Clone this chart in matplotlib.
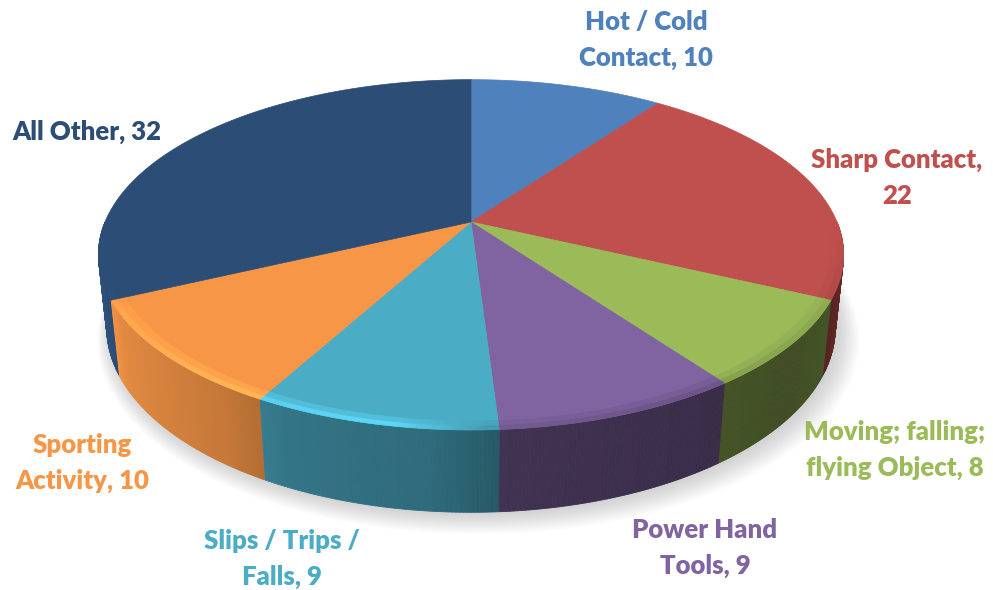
import numpy as np
import matplotlib.pyplot as plt
from matplotlib.patches import Polygon
from matplotlib.colors import to_rgb

# data
categories = ['Hot / Cold\nContact', 'Sharp Contact', 'Moving; falling;\nflying Object',
              'Power Hand\nTools', 'Slips / Trips /\nFalls', 'Sporting\nActivity', 'All Other']
values = [10, 22, 8, 9, 9, 10, 32]
colors = ['#4F81BD', '#C0504D', '#9BBB59', '#8064A2', '#4BACC6', '#F79646', '#2C4D75']
value_on_new_line = [False, True, False, False, False, False, False]
label_pos = [(646, 40), (897, 178), (895, 450), (705, 548), (282, 559), (82, 463), (87, 132)]

# 3d view (pixel units)
K, CX, CY = 366, 471, 222
ELEV = np.radians(27.5)
DIST = 4.74
THICK = 0.226


def project(theta, h=0.0, r=1.0):
    X = r * np.cos(theta)
    Z = r * np.sin(theta)
    sy = h * np.cos(ELEV) + Z * np.sin(ELEV)
    dep = Z * np.cos(ELEV) - h * np.sin(ELEV)
    f = DIST / (DIST + dep)
    return CX + K * X * f, CY - K * sy * f


def side_shade(t):
    d = np.degrees(t)
    return np.interp(d, [-180, -160, -150, -125, -115, -95, -85, -60, -40, -25, -10, 0],
                     [1.12, 1.05, 0.92, 0.8, 0.68, 0.62, 0.5, 0.46, 0.41, 0.45, 0.55, 0.6])


def rim_shade(t):
    d = np.degrees(t)
    return np.interp(d, [-180, -160, -150, -125, -100, -88, -60, -20, 0],
                     [1.0, 1.0, 1.12, 1.2, 1.25, 0.9, 0.85, 0.93, 1.0])


def tint(c, k):
    return tuple(np.clip(np.array(to_rgb(c)) * k, 0, 1))


fig = plt.figure(figsize=(9.93, 5.90), dpi=100)
ax = fig.add_axes([0, 0, 1, 1])
ax.set_xlim(0, 993)
ax.set_ylim(590, 0)
ax.axis('off')

total = sum(values)
cum = np.concatenate([[0], np.cumsum(values)])
starts = np.radians(90 - 360 * cum[:-1] / total)
ends = np.radians(90 - 360 * cum[1:] / total)

# soft shadow under the pie
ring = np.linspace(-np.pi, np.pi, 200)
for i in range(12):
    px, py = project(ring, -THICK, 1 + 0.004 * i)
    ax.add_patch(Polygon(np.column_stack([px + 3 + 0.4 * i, py + 2 + 0.7 * i]),
                         closed=True, fc='#808080', ec='none', alpha=0.03))

# side walls, front half only, far pieces first
quads = []
for i in range(len(values)):
    lo = max(ends[i], -np.pi)
    hi = min(starts[i], 0)
    if lo >= hi:
        continue
    n = max(2, int(np.degrees(hi - lo) * 2))
    tt = np.linspace(lo, hi, n + 1)
    for a, b in zip(tt[:-1], tt[1:]):
        quads.append((np.sin((a + b) / 2), i, a, b))
quads.sort(key=lambda q: -q[0])
for _, i, a, b in quads:
    x1, y1 = project(a)
    x2, y2 = project(b)
    x3, y3 = project(b, -THICK)
    x4, y4 = project(a, -THICK)
    c = tint(colors[i], side_shade((a + b) / 2))
    ax.add_patch(Polygon([(x1, y1), (x2, y2), (x3, y3), (x4, y4)], closed=True,
                         fc=c, ec=c, lw=0.6))

# top faces
for i in range(len(values)):
    tt = np.linspace(starts[i], ends[i], 120)
    px, py = project(tt)
    pts = np.vstack([[CX, CY], np.column_stack([px, py])])
    ax.add_patch(Polygon(pts, closed=True, fc=colors[i], ec=colors[i], lw=0.5))

# bevel at the front rim
for i in range(len(values)):
    lo = max(ends[i], -np.pi)
    hi = min(starts[i], 0)
    if lo >= hi:
        continue
    tt = np.linspace(lo, hi, 80)
    for r0, r1, w in [(0.965, 0.985, 0.45), (0.985, 1.0, 1.0)]:
        for a, b in zip(tt[:-1], tt[1:]):
            m = (a + b) / 2
            k = 1 + (rim_shade(m) - 1) * w
            c = tint(colors[i], k)
            xa, ya = project(a, 0, r0)
            xb, yb = project(b, 0, r0)
            xc, yc = project(b, 0, r1)
            xd, yd = project(a, 0, r1)
            ax.add_patch(Polygon([(xa, ya), (xb, yb), (xc, yc), (xd, yd)], closed=True,
                                 fc=c, ec=c, lw=0.4))

# data labels
for i in range(len(values)):
    sep = '\n' if value_on_new_line[i] else ' '
    txt = f"{categories[i]},{sep}{values[i]}"
    ax.text(label_pos[i][0], label_pos[i][1], txt, color=colors[i], fontsize=18.5,
            fontweight='heavy', family='Lato', ha='center', va='center', linespacing=1.62)

fig.savefig('out.png', dpi=100)
